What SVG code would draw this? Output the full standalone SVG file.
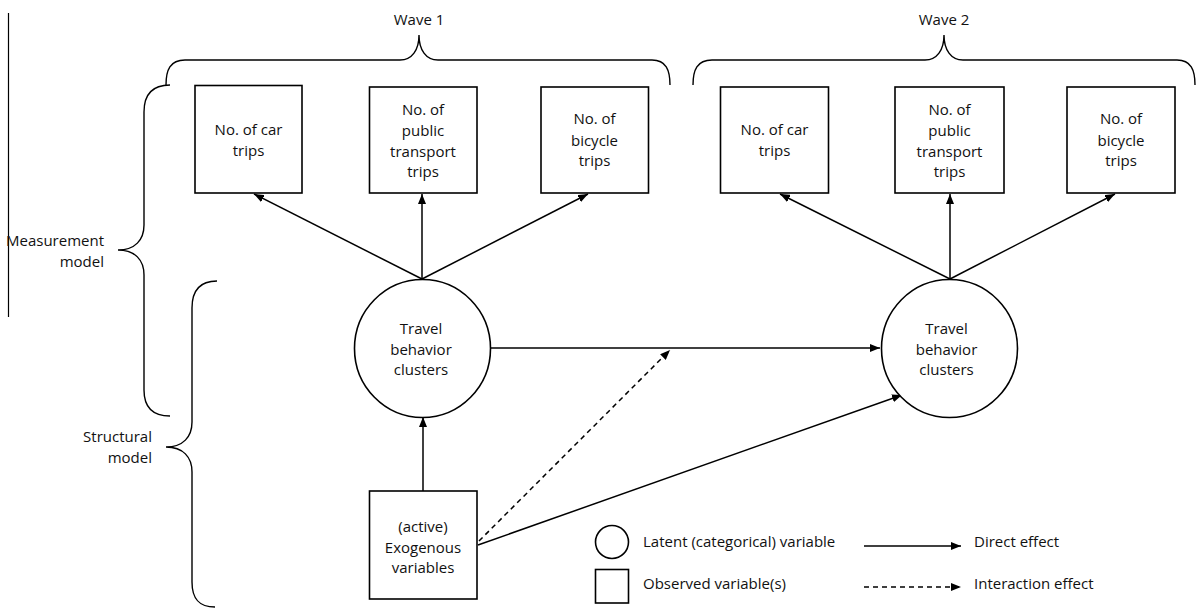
<svg xmlns="http://www.w3.org/2000/svg" width="1198" height="608" viewBox="0 0 1198 608">
<defs>
<marker id="ah" viewBox="0 0 10 8" refX="10" refY="4" markerWidth="10" markerHeight="8" markerUnits="userSpaceOnUse" orient="auto">
<path d="M0,0 L10,4 L0,8 Z" fill="#000"/>
</marker>
</defs>
<style>
text{font-family:"Open Sans","Liberation Sans",sans-serif;font-size:15px;fill:#111;text-anchor:middle;dominant-baseline:central}
.lt{text-anchor:start}
.rt{text-anchor:end}
.box{fill:#fff;stroke:#000;stroke-width:1.6}
.brace{fill:none;stroke:#000;stroke-width:1.4}
.ar{fill:none;stroke:#000;stroke-width:1.5;marker-end:url(#ah)}
.dash{stroke-dasharray:5,4}
</style>
<rect width="1198" height="608" fill="#fff"/>
<g id="frame">
<line x1="8.5" y1="13" x2="8.5" y2="317" stroke="#000" stroke-width="1.2"/>
<path class="brace" d="M166,85 C166,70 170,60 185,60 L400,60 C412,60 419,50 419,35 C419,50 426,60 438,60 L652,60 C666,60 670,70 670,85"/>
<path class="brace" d="M693,85 C693,70 697,60 712,60 L925,60 C937,60 944,50 944,35 C944,50 951,60 963,60 L1177,60 C1191,60 1195,70 1195,85"/>
<path class="brace" d="M170,85 C152,85 144,95 144,112 L144,225 C144,240 135,250 118,250 C135,250 144,260 144,275 L144,390 C144,407 152,416 170,416"/>
<path class="brace" d="M217,281 C199,281 192,291 192,308 L192,422 C192,437 183,447 166,447 C183,447 192,457 192,472 L192,582 C192,599 199,607 215,607"/>
<text x="419" y="19">Wave 1</text>
<text x="944" y="19">Wave 2</text>
<text class="rt" x="104" y="240">Measurement</text>
<text class="rt" x="104" y="261">model</text>
<text class="rt" x="152" y="436">Structural</text>
<text class="rt" x="152" y="457">model</text>
</g>
<g id="connectors">
<line class="ar" x1="422" y1="279" x2="254" y2="194"/>
<line class="ar" x1="422" y1="279" x2="422" y2="194"/>
<line class="ar" x1="422" y1="279" x2="588" y2="194"/>
<line class="ar" x1="950" y1="279" x2="780" y2="194"/>
<line class="ar" x1="950" y1="279" x2="950" y2="194"/>
<line class="ar" x1="950" y1="279" x2="1115" y2="194"/>
<line class="ar" x1="423" y1="491" x2="423" y2="417"/>
<line class="ar" x1="491" y1="348" x2="880" y2="348"/>
<line class="ar dash" x1="479" y1="541" x2="670" y2="350"/>
<line class="ar" x1="478" y1="545" x2="902" y2="395"/>
</g>
<g id="w1-car"><rect class="box" x="195" y="85.5" width="107" height="107.5"/><text x="248.5" y="129">No. of car</text><text x="248.5" y="150">trips</text></g>
<g id="w1-pt"><rect class="box" x="369.5" y="87" width="107.5" height="106"/><text x="423" y="109">No. of</text><text x="423" y="130">public</text><text x="423" y="151">transport</text><text x="423" y="171">trips</text></g>
<g id="w1-bike"><rect class="box" x="541" y="87" width="107.5" height="106"/><text x="594.5" y="118">No. of</text><text x="594.5" y="140">bicycle</text><text x="594.5" y="160">trips</text></g>
<g id="w2-car"><rect class="box" x="720.5" y="87" width="108" height="106"/><text x="774.5" y="129">No. of car</text><text x="774.5" y="150">trips</text></g>
<g id="w2-pt"><rect class="box" x="895" y="87" width="109" height="106"/><text x="949.5" y="109">No. of</text><text x="949.5" y="130">public</text><text x="949.5" y="151">transport</text><text x="949.5" y="171">trips</text></g>
<g id="w2-bike"><rect class="box" x="1067" y="87" width="108" height="106"/><text x="1121" y="118">No. of</text><text x="1121" y="140">bicycle</text><text x="1121" y="160">trips</text></g>
<g id="tbc1"><ellipse class="box" cx="422.5" cy="348.5" rx="68" ry="69"/><text x="421" y="328">Travel</text><text x="421" y="349">behavior</text><text x="421" y="369">clusters</text></g>
<g id="tbc2"><ellipse class="box" cx="949.5" cy="348.5" rx="68" ry="69"/><text x="946.5" y="328">Travel</text><text x="946.5" y="349">behavior</text><text x="946.5" y="369">clusters</text></g>
<g id="exo"><rect class="box" x="369.5" y="491" width="107.5" height="108"/><text x="423" y="526">(active)</text><text x="423" y="547">Exogenous</text><text x="423" y="567">variables</text></g>
<g id="legend">
<circle class="box" cx="612" cy="542" r="16.5"/>
<text class="lt" x="643" y="541">Latent (categorical) variable</text>
<rect class="box" x="595.5" y="569.5" width="33" height="33.5"/>
<text class="lt" x="643" y="583">Observed variable(s)</text>
<line class="ar" x1="864" y1="546" x2="961" y2="546"/>
<text class="lt" x="974" y="541">Direct effect</text>
<line class="ar dash" x1="864" y1="587" x2="961" y2="587"/>
<text class="lt" x="974" y="583">Interaction effect</text>
</g>
</svg>
